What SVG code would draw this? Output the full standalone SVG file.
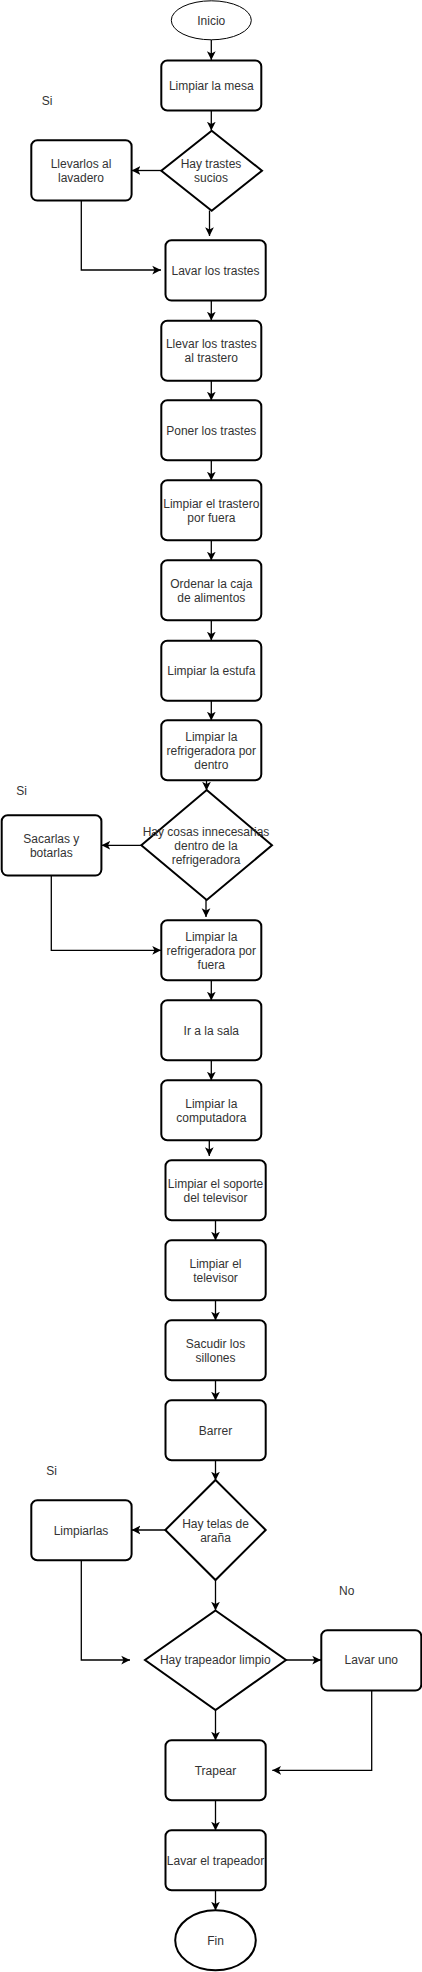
<svg xmlns="http://www.w3.org/2000/svg" width="422" height="1972" viewBox="0 0 422 1972">
<style>
  .box{fill:#fff;stroke:#000;stroke-width:2}
  .el1{fill:#fff;stroke:#000;stroke-width:1}
  .t{font-family:"Liberation Sans",Arial,sans-serif;font-size:12px;fill:#333;text-anchor:middle}
  .e{fill:none;stroke:#000;stroke-width:1.3}
</style>
<defs>
  <marker id="ar" markerUnits="userSpaceOnUse" markerWidth="10" markerHeight="10" viewBox="0 0 8 8" refX="7" refY="4" orient="auto">
    <path d="M0,0.5 L7,4 L0,7.5 L1.8,4 Z" fill="#000"/>
  </marker>
</defs>
<rect width="422" height="1972" fill="#fff"/>
<g id="connectors">
  <path class="e" marker-end="url(#ar)" d="M211.3,40 V60"/>
  <path class="e" marker-end="url(#ar)" d="M211.3,110.5 V130.5"/>
  <path class="e" marker-end="url(#ar)" d="M161.3,170.5 H131.7"/>
  <path class="e" marker-end="url(#ar)" d="M209.5,210.5 V236"/>
  <path class="e" marker-end="url(#ar)" d="M81.3,200.5 V270 H161"/>
  <path class="e" marker-end="url(#ar)" d="M211.3,300.5 V320.5"/>
  <path class="e" marker-end="url(#ar)" d="M211.3,380.5 V400.5"/>
  <path class="e" marker-end="url(#ar)" d="M211.3,460.5 V480.5"/>
  <path class="e" marker-end="url(#ar)" d="M211.3,540.5 V560.5"/>
  <path class="e" marker-end="url(#ar)" d="M211.3,620.5 V640.5"/>
  <path class="e" marker-end="url(#ar)" d="M211.3,700.5 V720.5"/>
  <path class="e" marker-end="url(#ar)" d="M206.5,780.5 V790.5"/>
  <path class="e" marker-end="url(#ar)" d="M141.3,845.3 H101.5"/>
  <path class="e" marker-end="url(#ar)" d="M206,900 V917"/>
  <path class="e" marker-end="url(#ar)" d="M51.3,875.7 V950.3 H161"/>
  <path class="e" marker-end="url(#ar)" d="M211.3,980.5 V1000.5"/>
  <path class="e" marker-end="url(#ar)" d="M211.3,1060.5 V1080.5"/>
  <path class="e" marker-end="url(#ar)" d="M209.3,1140.5 V1156"/>
  <path class="e" marker-end="url(#ar)" d="M215.5,1220.5 V1240.5"/>
  <path class="e" marker-end="url(#ar)" d="M215.5,1300.5 V1320.5"/>
  <path class="e" marker-end="url(#ar)" d="M215.5,1380.5 V1400.5"/>
  <path class="e" marker-end="url(#ar)" d="M215.5,1460.5 V1480.5"/>
  <path class="e" marker-end="url(#ar)" d="M165.3,1530 H131.7"/>
  <path class="e" marker-end="url(#ar)" d="M215.5,1580 V1610.5"/>
  <path class="e" marker-end="url(#ar)" d="M81.3,1560.5 V1660 H130"/>
  <path class="e" marker-end="url(#ar)" d="M286,1660 H321"/>
  <path class="e" marker-end="url(#ar)" d="M215.5,1710 V1740.5"/>
  <path class="e" marker-end="url(#ar)" d="M371.7,1690.7 V1770.3 H272.3"/>
  <path class="e" marker-end="url(#ar)" d="M215.5,1800.5 V1830.5"/>
  <path class="e" marker-end="url(#ar)" d="M215.5,1890.5 V1910.5"/>
</g>
<g id="inicio"><ellipse class="el1" cx="211.3" cy="20.3" rx="40" ry="19.5"/><text class="t" x="211.3" y="24.5">Inicio</text></g>
<g id="limpiar-mesa"><rect class="box" x="161.3" y="60.5" width="100" height="50" rx="6"/><text class="t" x="211.3" y="89.5">Limpiar la mesa</text></g>
<g id="lbl-si-1"><text class="t" x="47" y="104.5">Si</text></g>
<g id="hay-trastes"><path class="box" d="M211.7,130.7 L262,170.7 L211.7,210.7 L161.3,170.7 Z"/><text class="t" x="211" y="167.8">Hay trastes</text><text class="t" x="211" y="181.8">sucios</text></g>
<g id="llevarlos"><rect class="box" x="31.3" y="140.3" width="100.3" height="60.3" rx="6"/><text class="t" x="81" y="167.8">Llevarlos al</text><text class="t" x="81" y="181.8">lavadero</text></g>
<g id="lavar-trastes"><rect class="box" x="165.5" y="240.3" width="100.2" height="60.3" rx="6"/><text class="t" x="215.5" y="274.7">Lavar los trastes</text></g>
<g id="llevar-trastero"><rect class="box" x="161.3" y="320.7" width="100" height="60" rx="6"/><text class="t" x="211.3" y="348">Llevar los trastes</text><text class="t" x="211.3" y="362">al trastero</text></g>
<g id="poner-trastes"><rect class="box" x="161.3" y="400.3" width="100" height="60" rx="6"/><text class="t" x="211.3" y="434.5">Poner los trastes</text></g>
<g id="limpiar-trastero"><rect class="box" x="161.3" y="480.3" width="100" height="60" rx="6"/><text class="t" x="211.3" y="508">Limpiar el trastero</text><text class="t" x="211.3" y="522">por fuera</text></g>
<g id="ordenar-caja"><rect class="box" x="161.3" y="560.3" width="100" height="60" rx="6"/><text class="t" x="211.3" y="588">Ordenar la caja</text><text class="t" x="211.3" y="602">de alimentos</text></g>
<g id="limpiar-estufa"><rect class="box" x="161.3" y="640.7" width="100" height="60" rx="6"/><text class="t" x="211.3" y="674.5">Limpiar la estufa</text></g>
<g id="refri-dentro"><rect class="box" x="161.3" y="720.3" width="100" height="60" rx="6"/><text class="t" x="211.3" y="740.7">Limpiar la</text><text class="t" x="211.3" y="754.7">refrigeradora por</text><text class="t" x="211.3" y="768.7">dentro</text></g>
<g id="lbl-si-2"><text class="t" x="21.7" y="795">Si</text></g>
<g id="hay-cosas"><path class="box" d="M206.7,790 L272,845.3 L206.7,900 L141.3,845.3 Z"/><text class="t" x="206" y="835.7">Hay cosas innecesarias</text><text class="t" x="206" y="849.7">dentro de la</text><text class="t" x="206" y="863.7">refrigeradora</text></g>
<g id="sacarlas"><rect class="box" x="1.7" y="815.3" width="99.7" height="60.3" rx="6"/><text class="t" x="51.3" y="842.7">Sacarlas y</text><text class="t" x="51.3" y="856.7">botarlas</text></g>
<g id="refri-fuera"><rect class="box" x="161.3" y="920.3" width="100" height="60" rx="6"/><text class="t" x="211.3" y="940.7">Limpiar la</text><text class="t" x="211.3" y="954.7">refrigeradora por</text><text class="t" x="211.3" y="968.7">fuera</text></g>
<g id="ir-sala"><rect class="box" x="161.3" y="1000.3" width="100" height="60" rx="6"/><text class="t" x="211.3" y="1034.5">Ir a la sala</text></g>
<g id="limpiar-compu"><rect class="box" x="161.3" y="1080.3" width="100" height="60" rx="6"/><text class="t" x="211.3" y="1108">Limpiar la</text><text class="t" x="211.3" y="1122">computadora</text></g>
<g id="limpiar-soporte"><rect class="box" x="165.5" y="1160.3" width="100.2" height="60" rx="6"/><text class="t" x="215.5" y="1188">Limpiar el soporte</text><text class="t" x="215.5" y="1202">del televisor</text></g>
<g id="limpiar-tv"><rect class="box" x="165.5" y="1240.3" width="100.2" height="60" rx="6"/><text class="t" x="215.5" y="1268">Limpiar el</text><text class="t" x="215.5" y="1282">televisor</text></g>
<g id="sacudir"><rect class="box" x="165.5" y="1320.3" width="100.2" height="60" rx="6"/><text class="t" x="215.5" y="1348">Sacudir los</text><text class="t" x="215.5" y="1362">sillones</text></g>
<g id="barrer"><rect class="box" x="165.5" y="1400.3" width="100.2" height="60" rx="6"/><text class="t" x="215.5" y="1434.5">Barrer</text></g>
<g id="lbl-si-3"><text class="t" x="51.7" y="1475">Si</text></g>
<g id="hay-telas"><path class="box" d="M215.5,1480 L265.7,1530 L215.5,1580 L165.3,1530 Z"/><text class="t" x="215.5" y="1527.5">Hay telas de</text><text class="t" x="215.5" y="1541.5">araña</text></g>
<g id="limpiarlas"><rect class="box" x="31.3" y="1500.3" width="100.3" height="60" rx="6"/><text class="t" x="81" y="1534.5">Limpiarlas</text></g>
<g id="lbl-no"><text class="t" x="346.7" y="1595">No</text></g>
<g id="hay-trapeador"><path class="box" d="M215.5,1610.5 L286,1660 L215.5,1710 L145,1660 Z"/><text class="t" x="215.3" y="1664.3">Hay trapeador limpio</text></g>
<g id="lavar-uno"><rect class="box" x="321.3" y="1630.3" width="100" height="60.3" rx="6"/><text class="t" x="371.3" y="1664.3">Lavar uno</text></g>
<g id="trapear"><rect class="box" x="165.5" y="1740.3" width="100.2" height="60" rx="6"/><text class="t" x="215.5" y="1774.5">Trapear</text></g>
<g id="lavar-trapeador"><rect class="box" x="165.5" y="1830.3" width="100.2" height="60" rx="6"/><text class="t" x="215.5" y="1864.5">Lavar el trapeador</text></g>
<g id="fin"><ellipse class="box" cx="215.5" cy="1940.3" rx="40.3" ry="30"/><text class="t" x="215.5" y="1944.5">Fin</text></g>
</svg>
